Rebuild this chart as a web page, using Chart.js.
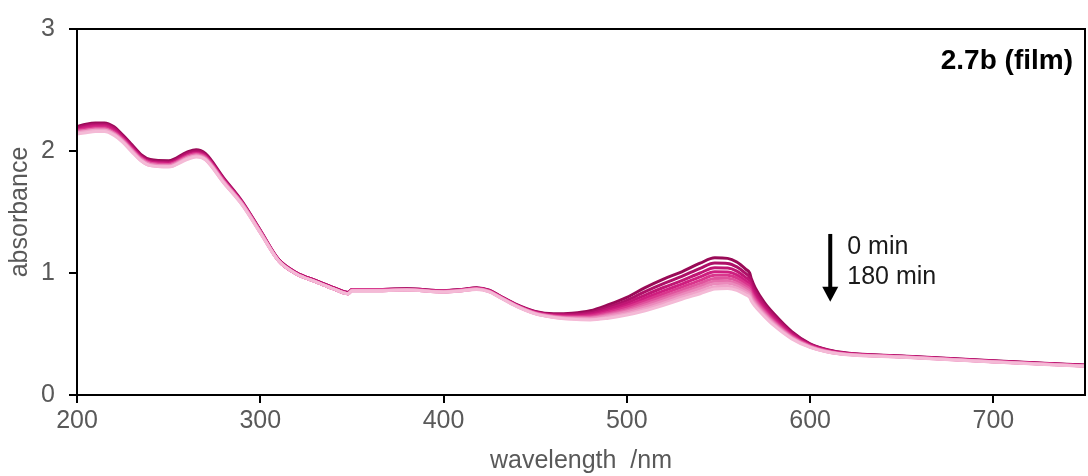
<!DOCTYPE html>
<html>
<head>
<meta charset="utf-8">
<script src="https://cdn.jsdelivr.net/npm/chart.js@4.4.1/dist/chart.umd.min.js"></script>
<style>
  html, body { margin: 0; padding: 0; background: #fff; }
  #wrap { width: 1088px; height: 476px; }
</style>
</head>
<body>
<div id="wrap"><canvas id="c" width="1088" height="476"></canvas></div>
<script>
// Wavelength grid (nm) shared by all spectra
const wavelengths = [200,205,210,215,220,225,230,235,240,250,260,265,270,280,290,300,310,320,330,340,348,350,360,380,400,410,418,425,430,440,450,460,470,480,490,500,510,520,530,540,548,555,560,565,567,568,570,575,580,590,600,610,620,650,700,750];

// Irradiation times (min)
const times = [0,20,40,60,80,100,120,140,160,180];

// Absorbance spectra of the film at each time
const abs0   = [2.20,2.22,2.23,2.23,2.20,2.13,2.05,1.97,1.93,1.92,1.99,2.01,1.98,1.78,1.59,1.35,1.11,1.00,0.94,0.88,0.84,0.865,0.865,0.87,0.855,0.865,0.88,0.86,0.82,0.74,0.685,0.665,0.67,0.69,0.74,0.80,0.88,0.95,1.01,1.08,1.125,1.12,1.09,1.03,1.00,0.95,0.88,0.76,0.67,0.52,0.42,0.37,0.345,0.32,0.28,0.245];
const abs20  = [2.19,2.21,2.22,2.22,2.19,2.12,2.04,1.96,1.92,1.91,1.98,2.00,1.97,1.77,1.58,1.35,1.11,1.00,0.94,0.88,0.84,0.865,0.865,0.87,0.855,0.865,0.877,0.857,0.817,0.737,0.682,0.66,0.662,0.677,0.721,0.775,0.848,0.913,0.972,1.038,1.081,1.078,1.05,0.994,0.965,0.919,0.854,0.741,0.654,0.51,0.415,0.367,0.342,0.318,0.278,0.243];
const abs40  = [2.18,2.20,2.21,2.21,2.18,2.11,2.03,1.95,1.91,1.90,1.97,1.99,1.96,1.77,1.58,1.34,1.11,1.00,0.94,0.88,0.84,0.86,0.86,0.865,0.85,0.86,0.875,0.855,0.815,0.735,0.679,0.655,0.654,0.666,0.705,0.754,0.819,0.881,0.938,1.0,1.043,1.041,1.016,0.962,0.935,0.891,0.831,0.724,0.639,0.501,0.41,0.364,0.34,0.317,0.277,0.242];
const abs60  = [2.17,2.19,2.20,2.20,2.17,2.10,2.02,1.95,1.91,1.90,1.96,1.98,1.96,1.76,1.58,1.34,1.10,0.99,0.93,0.87,0.83,0.86,0.86,0.865,0.85,0.86,0.873,0.853,0.813,0.733,0.676,0.651,0.648,0.656,0.69,0.735,0.795,0.853,0.909,0.968,1.01,1.009,0.985,0.935,0.909,0.868,0.81,0.708,0.626,0.493,0.407,0.361,0.338,0.316,0.276,0.241];
const abs80  = [2.17,2.18,2.19,2.19,2.16,2.10,2.02,1.94,1.90,1.89,1.96,1.98,1.95,1.76,1.57,1.34,1.10,0.99,0.93,0.87,0.83,0.86,0.86,0.865,0.85,0.86,0.872,0.852,0.812,0.732,0.674,0.648,0.642,0.648,0.678,0.719,0.774,0.83,0.884,0.94,0.981,0.982,0.96,0.912,0.887,0.848,0.793,0.695,0.616,0.486,0.403,0.359,0.337,0.314,0.274,0.239];
const abs100 = [2.16,2.17,2.18,2.18,2.15,2.09,2.01,1.94,1.90,1.89,1.95,1.97,1.95,1.75,1.57,1.34,1.10,0.99,0.93,0.87,0.83,0.86,0.86,0.865,0.85,0.86,0.87,0.85,0.81,0.73,0.672,0.645,0.637,0.64,0.667,0.704,0.755,0.808,0.862,0.915,0.955,0.957,0.936,0.891,0.867,0.83,0.778,0.684,0.606,0.48,0.40,0.357,0.335,0.313,0.273,0.238];
const abs120 = [2.16,2.17,2.18,2.18,2.15,2.09,2.01,1.93,1.89,1.88,1.95,1.97,1.94,1.75,1.57,1.34,1.10,0.99,0.93,0.87,0.83,0.855,0.855,0.86,0.845,0.855,0.869,0.849,0.809,0.729,0.67,0.643,0.633,0.634,0.658,0.691,0.738,0.789,0.841,0.893,0.932,0.935,0.915,0.872,0.849,0.813,0.764,0.673,0.597,0.475,0.398,0.355,0.334,0.313,0.273,0.238];
const abs140 = [2.15,2.16,2.17,2.17,2.14,2.08,2.00,1.93,1.89,1.88,1.94,1.96,1.94,1.75,1.57,1.33,1.10,0.99,0.93,0.87,0.83,0.855,0.855,0.86,0.845,0.855,0.868,0.848,0.808,0.728,0.668,0.64,0.629,0.628,0.649,0.68,0.722,0.772,0.823,0.873,0.911,0.915,0.897,0.855,0.833,0.798,0.751,0.663,0.589,0.47,0.395,0.353,0.333,0.312,0.272,0.237];
const abs160 = [2.15,2.16,2.17,2.17,2.14,2.08,2.00,1.92,1.88,1.87,1.94,1.96,1.93,1.74,1.56,1.33,1.10,0.99,0.93,0.87,0.83,0.855,0.855,0.86,0.845,0.855,0.866,0.846,0.806,0.726,0.667,0.637,0.624,0.621,0.639,0.667,0.705,0.752,0.803,0.85,0.888,0.892,0.876,0.837,0.815,0.782,0.738,0.653,0.58,0.465,0.392,0.352,0.331,0.311,0.271,0.236];
const abs180 = [2.14,2.15,2.16,2.16,2.13,2.07,1.99,1.92,1.88,1.87,1.93,1.95,1.93,1.74,1.56,1.33,1.10,0.99,0.93,0.87,0.83,0.855,0.855,0.86,0.845,0.855,0.865,0.845,0.805,0.725,0.665,0.635,0.62,0.615,0.63,0.655,0.69,0.735,0.785,0.83,0.868,0.873,0.858,0.82,0.8,0.768,0.726,0.644,0.572,0.46,0.39,0.35,0.33,0.31,0.27,0.235];

const spectra = [abs0, abs20, abs40, abs60, abs80, abs100, abs120, abs140, abs160, abs180];

// Axis ticks
const xTicks = [200,300,400,500,600,700];
const yTicks = [0,1,2,3];

// Dark magenta (start) to pale pink (end)
const lineColors = ['#990a57','#ae1068','#c01674','#ce1e7f','#d9358c','#e0539d','#e66fac','#eb8bbc','#f0a4ca','#f4bad6'];

const FONT = '"Liberation Sans", Arial, sans-serif';
const GREY = '#595959';

const datasets = spectra.map((arr, k) => ({
  label: times[k] + ' min',
  data: wavelengths.map((w, i) => ({ x: w, y: arr[i] })),
  borderColor: lineColors[k],
  backgroundColor: lineColors[k],
  borderWidth: 3,
  pointRadius: 0,
  cubicInterpolationMode: 'monotone',
  fill: false,
  order: spectra.length - 1 - k   // later (paler) traces on top
}));

// Frame, sample label and time arrow
const decor = {
  id: 'decor',
  afterDraw(chart) {
    const { ctx, chartArea: a, scales: { x, y } } = chart;
    ctx.save();
    ctx.strokeStyle = '#000';
    ctx.lineWidth = 2;
    ctx.strokeRect(a.left, a.top, a.right - a.left, a.bottom - a.top);

    ctx.fillStyle = '#000';
    ctx.font = 'bold 28px ' + FONT;
    ctx.textAlign = 'right';
    ctx.textBaseline = 'middle';
    ctx.fillText('2.7b (film)', a.right - 12, a.top + 32);

    const ax = x.getPixelForValue(611);
    const yTop = y.getPixelForValue(1.32);
    const yTip = y.getPixelForValue(0.765);
    ctx.lineWidth = 4;
    ctx.beginPath();
    ctx.moveTo(ax, yTop);
    ctx.lineTo(ax, yTip - 12);
    ctx.stroke();
    ctx.beginPath();
    ctx.moveTo(ax - 8, yTip - 15);
    ctx.lineTo(ax + 8, yTip - 15);
    ctx.lineTo(ax, yTip);
    ctx.closePath();
    ctx.fill();

    ctx.fillStyle = '#1a1a1a';
    ctx.font = '25px ' + FONT;
    ctx.textAlign = 'left';
    ctx.fillText(times[0] + ' min', ax + 17, y.getPixelForValue(1.21));
    ctx.fillText(times[times.length - 1] + ' min', ax + 17, y.getPixelForValue(0.965));
    ctx.restore();
  }
};

new Chart(document.getElementById('c'), {
  type: 'line',
  data: { datasets },
  options: {
    responsive: false,
    animation: false,
    devicePixelRatio: 1,
    layout: { padding: { top: 25, right: 3, left: 0, bottom: 0 } },
    plugins: { legend: { display: false }, tooltip: { enabled: false } },
    scales: {
      x: {
        type: 'linear',
        min: 200,
        max: 750,
        afterBuildTicks: s => { s.ticks = xTicks.map(v => ({ value: v })); },
        afterFit: s => { s.height = 81; },
        border: { display: false },
        grid: { drawOnChartArea: false, drawTicks: true, tickLength: 8, color: '#000', lineWidth: 2 },
        ticks: { color: GREY, font: { family: FONT, size: 25 }, padding: 3, maxRotation: 0 },
        title: { display: true, text: 'wavelength  /nm', color: GREY, font: { family: FONT, size: 25 }, padding: { top: 0, bottom: 0 } }
      },
      y: {
        type: 'linear',
        min: 0,
        max: 3,
        afterBuildTicks: s => { s.ticks = yTicks.map(v => ({ value: v })); },
        afterFit: s => { s.width = 77; },
        border: { display: false },
        grid: { drawOnChartArea: false, drawTicks: true, tickLength: 8, color: '#000', lineWidth: 2 },
        ticks: { color: GREY, font: { family: FONT, size: 25 }, padding: 14 },
        title: { display: true, text: 'absorbance', color: GREY, font: { family: FONT, size: 25 }, padding: { top: 5, bottom: 0 } }
      }
    }
  },
  plugins: [decor]
});
</script>
</body>
</html>
